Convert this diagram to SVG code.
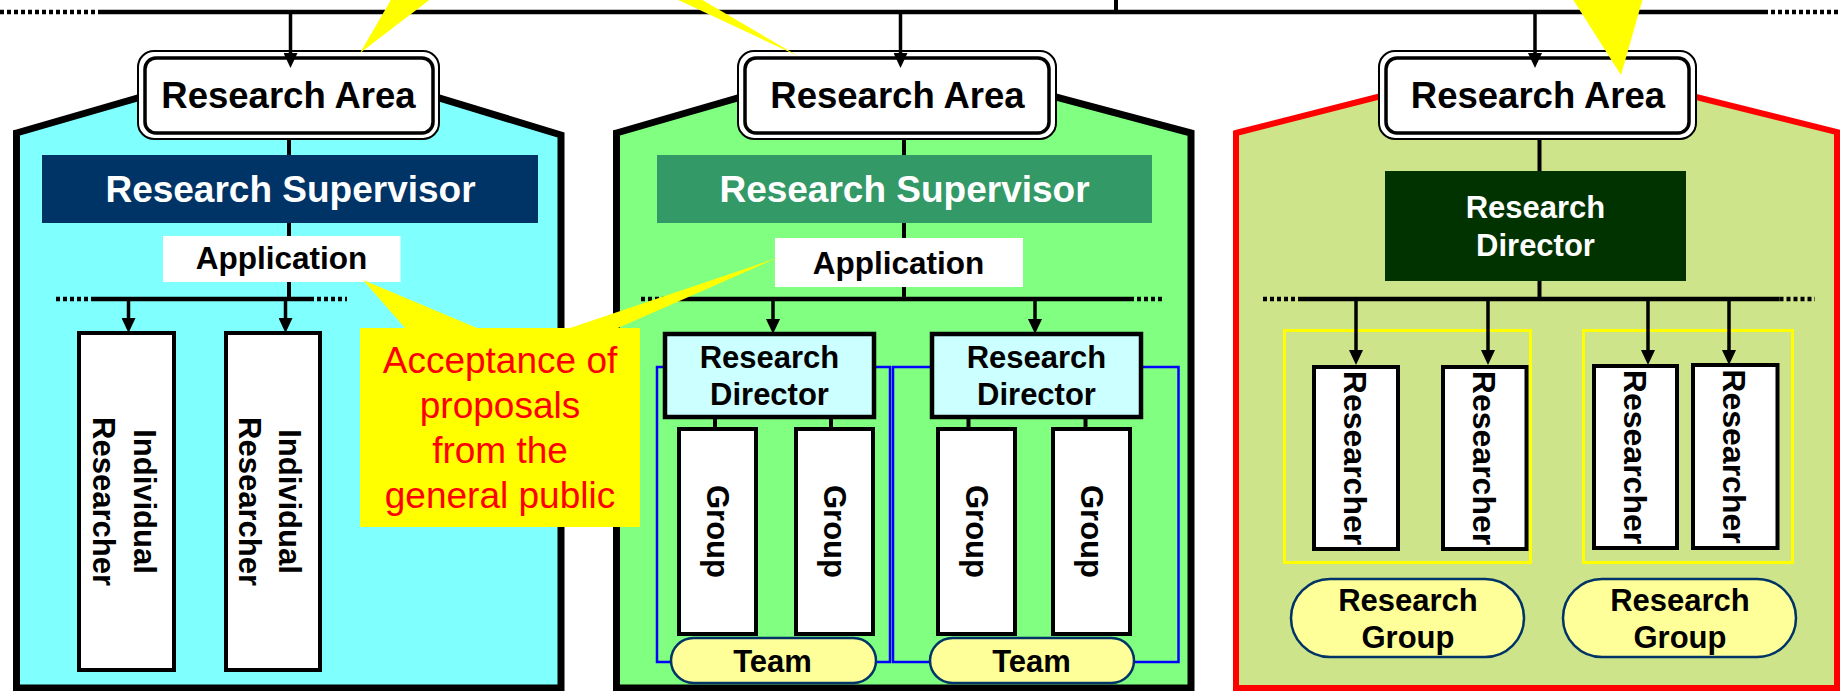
<svg xmlns="http://www.w3.org/2000/svg" width="1840" height="691" viewBox="0 0 1840 691">
<style>
.t{font-family:"Liberation Sans",Arial,Helvetica,sans-serif;font-weight:bold;text-anchor:middle;fill:#000}
.w{fill:#fff}
.ra{font-size:36.5px}
.rs{font-size:37px}
.ap{font-size:31.5px}
.m31{font-size:31px}
.m32{font-size:32px}
.ln{stroke:#000;stroke-width:4;fill:none}
.ar{stroke:#000;stroke-width:3.5;fill:none;marker-end:url(#ah)}
.dot{stroke:#000;stroke-width:4.5;fill:none;stroke-dasharray:4 3}
.bar{stroke:#000;stroke-width:4.5;fill:none}
.box{fill:#fff;stroke:#000;stroke-width:4}
.pill{fill:#ffff99;stroke:#003366;stroke-width:2.5}
.cal{font-family:"Liberation Sans",Arial,Helvetica,sans-serif;font-size:37px;fill:#ff0000;text-anchor:middle}
</style>
<defs>
<marker id="ah" markerUnits="userSpaceOnUse" markerWidth="15" markerHeight="14" refX="0" refY="7" orient="auto">
<path d="M0,0 L15,7 L0,14 Z" fill="#000"/>
</marker>
</defs>
<rect width="1840" height="691" fill="#fff"/>

<g id="panel-individual">
<polygon points="16.5,133 200,80 380,80 561,135 561,688 16.5,688" fill="#80ffff" stroke="#000" stroke-width="7" stroke-linejoin="miter"/>
</g>
<g id="panel-team">
<polygon points="616.5,133 800,80 1000,82 1191,133 1191,688 616.5,688" fill="#80ff80" stroke="#000" stroke-width="7"/>
</g>
<g id="panel-group">
<polygon points="1236,133 1440,81 1640,83 1837,132 1837,688 1236,688" fill="#cde48a" stroke="#ff0000" stroke-width="6"/>
</g>

<g id="area1">
<rect x="138" y="51" width="301" height="88" rx="16" fill="#fff" stroke="#000" stroke-width="2"/>
<rect x="145" y="58" width="288" height="75" rx="11" fill="none" stroke="#000" stroke-width="3.5"/>
<text class="t ra" x="288.5" y="108">Research Area</text>
</g>
<g id="area2">
<rect x="738" y="51" width="318" height="88" rx="16" fill="#fff" stroke="#000" stroke-width="2"/>
<rect x="745" y="58" width="304" height="75" rx="11" fill="none" stroke="#000" stroke-width="3.5"/>
<text class="t ra" x="897.5" y="108">Research Area</text>
</g>
<g id="area3">
<rect x="1379" y="51" width="317" height="88" rx="16" fill="#fff" stroke="#000" stroke-width="2"/>
<rect x="1386" y="58" width="303" height="75" rx="11" fill="none" stroke="#000" stroke-width="3.5"/>
<text class="t ra" x="1538" y="108">Research Area</text>
</g>

<g id="supervisor1">
<rect x="42" y="155" width="496" height="68" fill="#003366"/>
<text class="t w rs" x="290.5" y="202">Research Supervisor</text>
</g>
<g id="supervisor2">
<rect x="657" y="155" width="495" height="68" fill="#339966"/>
<text class="t w rs" x="904.5" y="202">Research Supervisor</text>
</g>
<g id="application1">
<rect x="163" y="236" width="237.5" height="46" fill="#fff"/>
<text class="t ap" x="281.5" y="269">Application</text>
</g>
<g id="application2">
<rect x="775" y="238" width="248" height="49" fill="#fff"/>
<text class="t ap" x="898.5" y="274">Application</text>
</g>

<g id="individual1">
<rect class="box" x="79" y="333" width="95" height="337"/>
<text class="t m31" transform="translate(126.5,501.5) rotate(90)"><tspan x="0" y="-7.5">Individual</tspan><tspan x="0" y="33.5">Researcher</tspan></text>
</g>
<g id="individual2">
<rect class="box" x="226" y="333" width="94" height="337"/>
<text class="t m31" transform="translate(273,501.5) rotate(90)"><tspan x="0" y="-6">Individual</tspan><tspan x="0" y="34">Researcher</tspan></text>
</g>

<g id="team1">
<rect x="657" y="367" width="233" height="295" fill="none" stroke="#0000ff" stroke-width="2.5"/>
<rect x="665" y="334" width="209" height="83" fill="#ccffff" stroke="#000" stroke-width="4.5"/>
<text class="t m31" x="769.5" y="368">Research</text>
<text class="t m31" x="769.5" y="405">Director</text>
<rect class="box" x="679" y="429" width="77" height="205"/>
<text class="t m31" transform="translate(717.5,531.5) rotate(90)" y="11">Group</text>
<rect class="box" x="796" y="429" width="77" height="205"/>
<text class="t m31" transform="translate(834.5,531.5) rotate(90)" y="11">Group</text>
<rect class="pill" x="671" y="638" width="205" height="45" rx="22.5"/>
<text class="t m31" x="772.5" y="672">Team</text>
</g>
<g id="team2">
<rect x="893" y="367" width="285.5" height="295" fill="none" stroke="#0000ff" stroke-width="2.5"/>
<rect x="932" y="334" width="209" height="83" fill="#ccffff" stroke="#000" stroke-width="4.5"/>
<text class="t m31" x="1036.5" y="368">Research</text>
<text class="t m31" x="1036.5" y="405">Director</text>
<rect class="box" x="938" y="429" width="77" height="205"/>
<text class="t m31" transform="translate(976.5,531.5) rotate(90)" y="11">Group</text>
<rect class="box" x="1053" y="429" width="77" height="205"/>
<text class="t m31" transform="translate(1091.5,531.5) rotate(90)" y="11">Group</text>
<rect class="pill" x="930" y="638" width="204" height="45" rx="22.5"/>
<text class="t m31" x="1031.5" y="672">Team</text>
</g>

<g id="director3">
<rect x="1385" y="171" width="301" height="110" fill="#003300"/>
<text class="t w m31" x="1535.5" y="218">Research</text>
<text class="t w m31" x="1535.5" y="256">Director</text>
</g>
<g id="group1">
<rect x="1284.5" y="330.5" width="246" height="232" fill="none" stroke="#ffff00" stroke-width="3"/>
<rect class="box" x="1314" y="367" width="84" height="182"/>
<text class="t m32" transform="translate(1356,458) rotate(90)" y="12">Researcher</text>
<rect class="box" x="1443" y="367" width="83.5" height="182"/>
<text class="t m32" transform="translate(1484.75,458) rotate(90)" y="12">Researcher</text>
<rect class="pill" x="1291" y="579" width="233" height="78" rx="39"/>
<text class="t m31" x="1408" y="611">Research</text>
<text class="t m31" x="1408" y="648">Group</text>
</g>
<g id="group2">
<rect x="1583.5" y="330.5" width="209" height="232" fill="none" stroke="#ffff00" stroke-width="3"/>
<rect class="box" x="1594" y="366" width="83" height="182"/>
<text class="t m32" transform="translate(1635.5,457) rotate(90)" y="12">Researcher</text>
<rect class="box" x="1693" y="365" width="84.5" height="183"/>
<text class="t m32" transform="translate(1735.25,456.5) rotate(90)" y="12">Researcher</text>
<rect class="pill" x="1563" y="579" width="233" height="78" rx="39"/>
<text class="t m31" x="1680" y="611">Research</text>
<text class="t m31" x="1680" y="648">Group</text>
</g>

<g id="connectors">
<path class="bar" d="M101,12 H1764"/>
<path class="dot" d="M0,12 H101 M1764,12 H1840"/>
<path class="ln" d="M1116,0 V12"/>
<path class="ar" d="M290.5,12 V53"/>
<path class="ar" d="M900.5,12 V53"/>
<path class="ar" d="M1535,12 V53"/>

<path class="ln" d="M289,140 V155 M289,223 V236 M289,282 V299"/>
<path class="bar" d="M91,299 H310"/>
<path class="dot" d="M56,299 H91 M310,299 H347"/>
<path class="ar" d="M128.5,299 V318"/>
<path class="ar" d="M285.5,299 V318"/>

<path class="ln" d="M904,140 V155 M904,223 V238 M904,287 V299"/>
<path class="bar" d="M677,299 H1130"/>
<path class="dot" d="M641,299 H677 M1130,299 H1165"/>
<path class="ar" d="M773,299 V319"/>
<path class="ar" d="M1035,299 V319"/>
<path class="ln" d="M715,417 V429 M831,417 V429 M968.5,417 V429 M1085.5,417 V429"/>

<path class="ln" d="M1539.5,140 V171 M1539.5,281 V299"/>
<path class="bar" d="M1299,299 H1779.5"/>
<path class="dot" d="M1263,299 H1299 M1779.5,299 H1815"/>
<path class="ar" d="M1356,299 V350"/>
<path class="ar" d="M1488,299 V350"/>
<path class="ar" d="M1648,299 V350"/>
<path class="ar" d="M1729,299 V350"/>
</g>

<g id="callout-public">
<path d="M360,328 H405 L363,280 L477,328 H570 L777,258 L618,328 H640 V527 H360 Z" fill="#ffff00"/>
<text class="cal" x="500" y="373">Acceptance of</text>
<text class="cal" x="500" y="418">proposals</text>
<text class="cal" x="500" y="463">from the</text>
<text class="cal" x="500" y="508">general public</text>
</g>

<g id="callout-pointers">
<polygon points="392,-2 432,-2 360,53" fill="#ffff00"/>
<polygon points="674,-2 699,-2 798,56" fill="#ffff00"/>
<polygon points="1572,-2 1643,-2 1621,75" fill="#ffff00"/>
</g>
</svg>
